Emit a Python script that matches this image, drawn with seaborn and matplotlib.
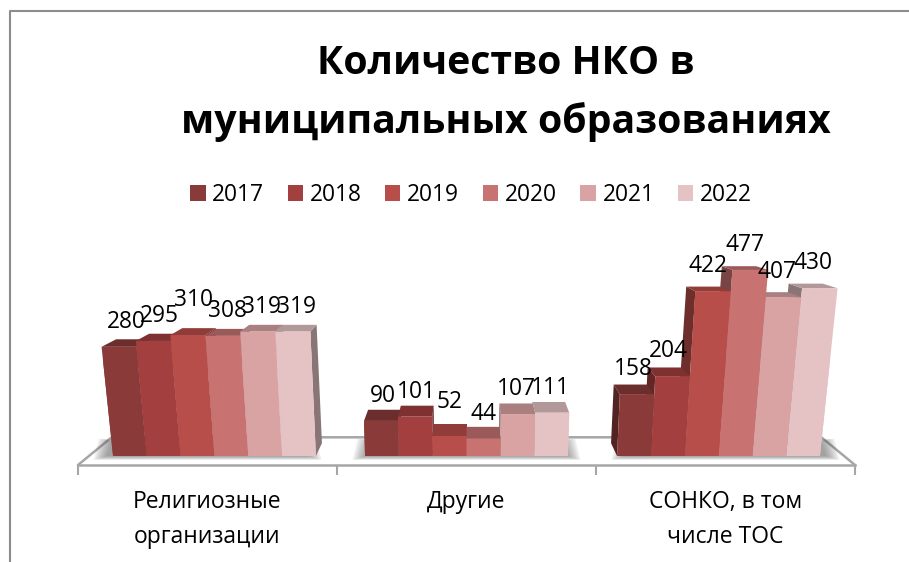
import pandas as pd
import numpy as np
import matplotlib
matplotlib.use("Agg")
import matplotlib.pyplot as plt
from matplotlib.lines import Line2D
from matplotlib.patches import Polygon
import seaborn as sns

categories = ["Религиозные\nорганизации", "Другие", "СОНКО, в том\nчисле ТОС"]
years = ["2017", "2018", "2019", "2020", "2021", "2022"]
v2017 = [280, 90, 158]
v2018 = [295, 101, 204]
v2019 = [310, 52, 422]
v2020 = [308, 44, 477]
v2021 = [319, 107, 407]
v2022 = [319, 111, 430]
colors = ["#8b3a3a", "#a33f3f", "#b84e4a", "#c87272", "#d9a3a3", "#e5c3c5"]

# extra lift of single labels, same as in the picture (year, category index)
lifts = {("2019", 0): 10, ("2019", 1): 9}

rows = []
for year, vals in zip(years, [v2017, v2018, v2019, v2020, v2021, v2022]):
    for cat, val in zip(categories, vals):
        rows.append({"cat": cat, "year": year, "n": val})
df = pd.DataFrame(rows)

sns.set_theme(style="white")
plt.rcParams["font.family"] = ["Open Sans", "DejaVu Sans"]

fig = plt.figure(figsize=(9.09, 5.62), dpi=100)
ax = fig.add_axes([78 / 909, (562 - 465) / 562, (855 - 78) / 909, 465 / 562])
ax.patch.set_alpha(0)

sns.barplot(df, x="cat", y="n", hue="year", palette=colors, order=categories,
            width=0.805, saturation=1, linewidth=0, ax=ax)
ax.set_xlim(-0.5, 2.5)
ax.set_ylim(-23, 1169)
ax.set_xlabel("")
ax.set_ylabel("")
ax.set_yticks([])
for side in ["top", "left", "right"]:
    ax.spines[side].set_visible(False)
ax.spines["bottom"].set_color("#a6a6a6")
ax.spines["bottom"].set_linewidth(1.8)
ax.set_xticks([-0.5, 0.5, 1.5, 2.5], minor=True)
ax.tick_params(axis="x", which="minor", bottom=True, length=7, width=1.5, color="#a6a6a6")
ax.tick_params(axis="x", which="major", bottom=False, labelsize=16.5, pad=12, labelcolor="black")
for t in ax.get_xticklabels():
    t.set_linespacing(1.6)


# simple perspective: bars lean away from the middle of the chart
def front(x, v):
    return 1 + (x - 1) * (0.973 + 0.000113 * v), v


def back(x, v):
    fx, fy = front(x, v)
    return 1 + (fx - 1) * 0.96, fy + 33 - 0.049 * v


def shade(color, k):
    return tuple(c * k for c in matplotlib.colors.to_rgb(color))


# floor
ax.plot([-0.5, -0.37, 2.37, 2.5], [-23, 48, 48, -23], color="#a6a6a6", lw=1.8,
        clip_on=False, zorder=1)

# soft shadows on the floor
for i in range(3):
    x1 = i - 0.39
    x2 = i + 0.39
    for s in np.linspace(0, 1, 8):
        pad = 0.05 * (1 - s)
        ax.fill([x1 - pad, x2 + pad, x2 + pad - 0.02, x1 - pad + 0.02],
                [-10 + 10 * s, -10 + 10 * s, 44 - 6 * s, 44 - 6 * s],
                color="#555555", alpha=0.09, lw=0, zorder=2)

# side, top and front faces, the bars furthest from the middle first
bars = []
for container, color, year in zip(ax.containers, colors, years):
    for j, bar in enumerate(container):
        bars.append((bar, color, year, j))
bars.sort(key=lambda b: -abs(b[0].get_x() + b[0].get_width() / 2 - 1))

z = 3
for bar, color, year, j in bars:
    x1 = bar.get_x()
    x2 = x1 + bar.get_width()
    v = bar.get_height()
    inner = x2 if x2 < 1 else x1
    ax.add_patch(Polygon([front(inner, 0), front(inner, v), back(inner, v), back(inner, 0)],
                         color=shade(color, 0.6), lw=0, zorder=z))
    ax.add_patch(Polygon([front(x1, v), front(x2, v), back(x2, v), back(x1, v)],
                         color=shade(color, 0.78), lw=0, zorder=z + 0.1))
    face = Polygon([front(x1, 0), front(x2, 0), front(x2, v), front(x1, v)],
                   color=color, lw=0, zorder=z + 0.2)
    ax.add_patch(face)
    bar.set_zorder(z + 0.3)
    bar.set_clip_path(face)
    z += 1
    fx = (front(x1, v)[0] + front(x2, v)[0]) / 2
    lx = 1 + (fx - 1) * 0.98
    ax.annotate(str(int(v)), (lx, v), xytext=(0, 18 + 0.72 * lifts.get((year, j), 0)),
                textcoords="offset points", ha="center", va="center",
                fontsize=16.4, color="black", zorder=100, annotation_clip=False)

sns.move_legend(ax, "center", bbox_to_anchor=(471 / 909, (562 - 195) / 562),
                bbox_transform=fig.transFigure, ncol=6, frameon=False, title=None,
                fontsize=16.4, labelcolor="black", handlelength=0.68, handleheight=0.68,
                handletextpad=0.3, columnspacing=1.02)

fig.text(506 / 909, (562 - 63) / 562, "Количество НКО в", ha="center", va="center",
         fontsize=28.3, fontweight="bold", color="black")
fig.text(506 / 909, (562 - 122) / 562, "муниципальных образованиях", ha="center", va="center",
         fontsize=28.3, fontweight="bold", color="black")

# frame of the chart area, only top and left are visible
fig.add_artist(Line2D([10 / 909, 10 / 909, 1], [0, (562 - 11) / 562, (562 - 11) / 562],
                      color="#8c8c8c", lw=1.5))

fig.savefig("out.png", dpi=100)
